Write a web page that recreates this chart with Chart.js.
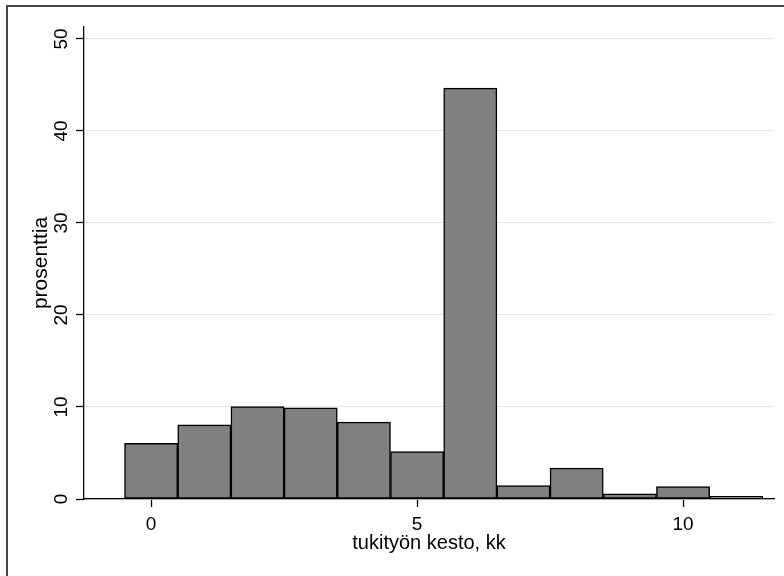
<!DOCTYPE html>
<html>
<head>
<meta charset="utf-8">
<script src="https://cdn.jsdelivr.net/npm/chart.js@4"></script>
<style>
  html, body { margin: 0; padding: 0; background: #fff; }
  canvas { display: block; }
</style>
</head>
<body>
<canvas id="myChart" width="784" height="576"></canvas>
<script>
// Histogrammin luokat (kuukautta) ja osuudet prosentteina
const kuukaudet = [0, 1, 2, 3, 4, 5, 6, 7, 8, 9, 10, 11];
const prosentit = [6.05, 8.05, 10.05, 9.9, 8.35, 5.15, 44.65, 1.45, 3.35, 0.55, 1.35, 0.3];
const xTikit = [0, 5, 10];
const yTikit = [0, 10, 20, 30, 40, 50];

// Kehys vasemmalle ja ylös kuten alkuperäisessä kuvassa
const kehys = {
    id: 'kehys',
    beforeDraw(chart) {
        const ctx = chart.ctx;
        ctx.save();
        ctx.fillStyle = '#fff';
        ctx.fillRect(0, 0, chart.width, chart.height);
        ctx.strokeStyle = '#444';
        ctx.lineWidth = 2;
        ctx.beginPath();
        ctx.moveTo(7, chart.height + 2);
        ctx.lineTo(7, 6);
        ctx.lineTo(chart.width + 2, 6);
        ctx.stroke();
        ctx.restore();
    }
};

const fontti = 'Liberation Sans, Arial, Helvetica, sans-serif';

const ctx = document.getElementById('myChart').getContext('2d');
const myChart = new Chart(ctx, {
    type: 'bar',
    data: {
        datasets: [{
            data: kuukaudet.map((k, i) => ({ x: k, y: prosentit[i] })),
            backgroundColor: '#808080',
            borderColor: '#000',
            borderWidth: 1.5,
            borderSkipped: false,
            barPercentage: 1,
            categoryPercentage: 1
        }]
    },
    options: {
        responsive: false,
        animation: false,
        layout: { padding: { left: 0, right: 10, top: 27, bottom: 0 } },
        plugins: {
            legend: { display: false },
            tooltip: { enabled: false }
        },
        scales: {
            x: {
                type: 'linear',
                min: -1.262,
                max: 11.71,
                offset: false,
                afterBuildTicks: (s) => { s.ticks = xTikit.map(v => ({ value: v })); },
                afterFit: (s) => { s.height = 77; },
                grid: { offset: false, drawOnChartArea: false, tickLength: 8, tickColor: '#000', tickWidth: 1.3 },
                border: { color: '#000', width: 1.3 },
                ticks: { color: '#000', padding: 6, font: { family: fontti, size: 19 } },
                title: {
                    display: true,
                    text: 'tukityön kesto, kk',
                    color: '#000',
                    font: { family: fontti, size: 20 },
                    padding: { top: 0, bottom: 21 }
                }
            },
            y: {
                min: 0,
                max: 51.3,
                afterBuildTicks: (s) => { s.ticks = yTikit.map(v => ({ value: v })); },
                afterFit: (s) => { s.width = 84; },
                grid: { color: '#e6e6e6', lineWidth: 1, tickLength: 8, tickColor: '#000', tickWidth: 1.3 },
                border: { color: '#000', width: 1.3 },
                ticks: {
                    color: '#000',
                    padding: 4,
                    minRotation: 90,
                    maxRotation: 90,
                    crossAlign: 'center',
                    autoSkip: false,
                    font: { family: fontti, size: 19 }
                },
                title: {
                    display: true,
                    text: 'prosenttia',
                    color: '#000',
                    font: { family: fontti, size: 21 },
                    padding: { top: 29, bottom: 0 }
                }
            }
        }
    },
    plugins: [kehys]
});
</script>
</body>
</html>
